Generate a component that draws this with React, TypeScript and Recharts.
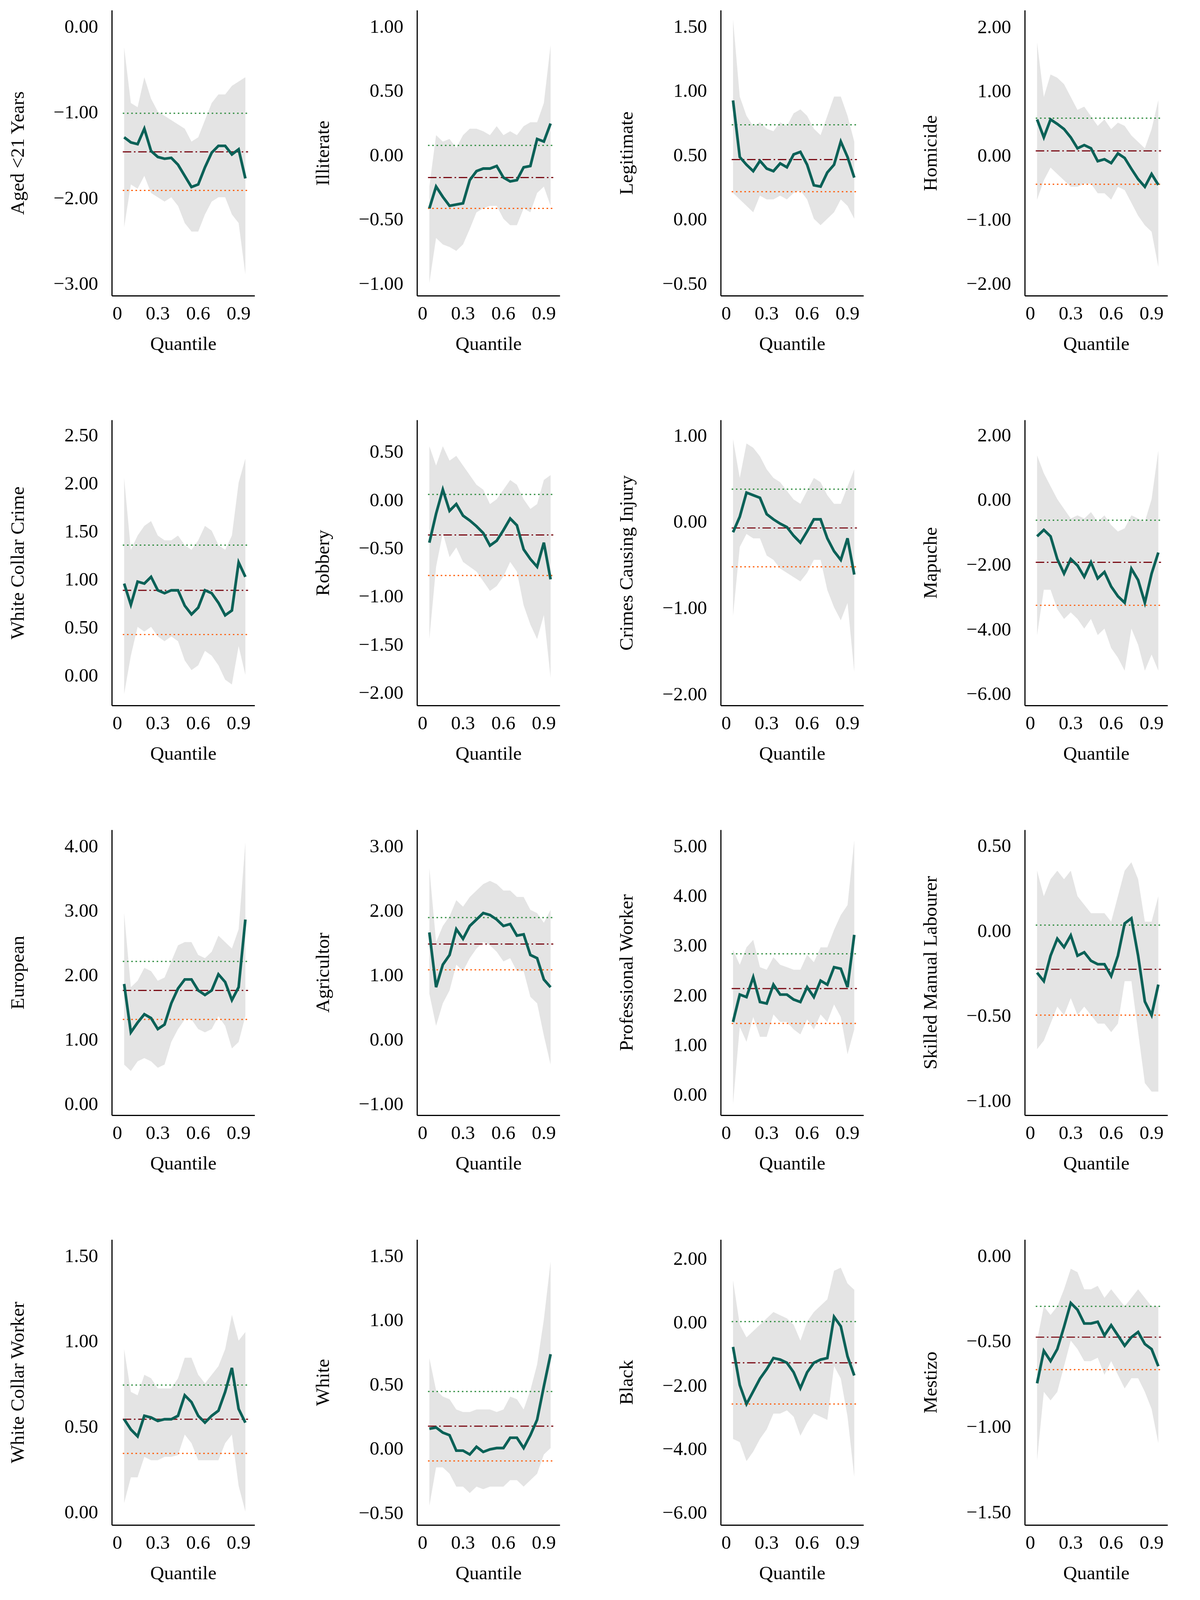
import React from "react";
import { ComposedChart, Line, Area, XAxis, YAxis, ReferenceLine } from "recharts";

const quantiles = [0.05, 0.1, 0.15, 0.2, 0.25, 0.3, 0.35, 0.4, 0.45, 0.5, 0.55, 0.6, 0.65, 0.7, 0.75, 0.8, 0.85, 0.9, 0.95];
const xTicks = [0, 0.3, 0.6, 0.9];

const titles = [
  "Aged <21 Years", "Illiterate", "Legitimate", "Homicide",
  "White Collar Crime", "Robbery", "Crimes Causing Injury", "Mapuche",
  "European", "Agricultor", "Professional Worker", "Skilled Manual Labourer",
  "White Collar Worker", "White", "Black", "Mestizo",
];

const yTicks = [
  [0, -1, -2, -3], [1, 0.5, 0, -0.5, -1], [1.5, 1, 0.5, 0, -0.5], [2, 1, 0, -1, -2],
  [2.5, 2, 1.5, 1, 0.5, 0], [0.5, 0, -0.5, -1, -1.5, -2], [1, 0, -1, -2], [2, 0, -2, -4, -6],
  [4, 3, 2, 1, 0], [3, 2, 1, 0, -1], [5, 4, 3, 2, 1, 0], [0.5, 0, -0.5, -1],
  [1.5, 1, 0.5, 0], [1.5, 1, 0.5, 0, -0.5], [2, 0, -2, -4, -6], [0, -0.5, -1, -1.5],
];

const yDomains = [
  [-3.15, 0.18], [-1.1, 1.12], [-0.6, 1.62], [-2.2, 2.25],
  [-0.32, 2.65], [-2.14, 0.82], [-2.14, 1.17], [-6.38, 2.44],
  [-0.19, 4.24], [-1.19, 3.24], [-0.43, 5.31], [-1.09, 0.59],
  [-0.08, 1.59], [-0.6, 1.62], [-6.42, 2.58], [-1.58, 0.09],
];

// OLS estimate, upper and lower confidence bound
const olsEst = [-1.47, -0.18, 0.46, 0.06, 0.88, -0.37, -0.08, -1.95, 1.75, 1.47, 2.12, -0.23, 0.54, 0.17, -1.3, -0.48];
const olsHi = [-1.02, 0.07, 0.73, 0.57, 1.35, 0.05, 0.37, -0.65, 2.2, 1.88, 2.82, 0.03, 0.74, 0.44, 0.0, -0.3];
const olsLo = [-1.92, -0.42, 0.21, -0.46, 0.42, -0.79, -0.53, -3.28, 1.3, 1.07, 1.42, -0.5, 0.34, -0.1, -2.6, -0.67];

const coef = [
  [-1.3, -1.36, -1.38, -1.2, -1.46, -1.53, -1.55, -1.54, -1.62, -1.75, -1.88, -1.85, -1.65, -1.48, -1.4, -1.4, -1.5, -1.44, -1.78],
  [-0.42, -0.25, -0.33, -0.4, -0.39, -0.38, -0.2, -0.13, -0.11, -0.11, -0.09, -0.18, -0.21, -0.2, -0.1, -0.09, 0.12, 0.1, 0.24],
  [0.92, 0.48, 0.42, 0.37, 0.45, 0.39, 0.37, 0.43, 0.4, 0.5, 0.52, 0.42, 0.26, 0.25, 0.36, 0.42, 0.6, 0.48, 0.32],
  [0.55, 0.27, 0.55, 0.48, 0.4, 0.27, 0.1, 0.15, 0.1, -0.1, -0.07, -0.13, 0.02, -0.05, -0.22, -0.38, -0.5, -0.3, -0.47],
  [0.95, 0.73, 0.97, 0.95, 1.02, 0.88, 0.85, 0.88, 0.88, 0.72, 0.63, 0.7, 0.88, 0.85, 0.75, 0.62, 0.67, 1.17, 1.02],
  [-0.45, -0.15, 0.1, -0.12, -0.05, -0.17, -0.22, -0.28, -0.35, -0.48, -0.43, -0.32, -0.2, -0.27, -0.52, -0.62, -0.7, -0.45, -0.83],
  [-0.13, 0.05, 0.33, 0.3, 0.27, 0.08, 0.02, -0.03, -0.07, -0.17, -0.25, -0.12, 0.02, 0.02, -0.2, -0.35, -0.45, -0.2, -0.62],
  [-1.15, -0.95, -1.15, -1.85, -2.3, -1.85, -2.05, -2.4, -1.95, -2.45, -2.25, -2.7, -3.0, -3.2, -2.15, -2.5, -3.2, -2.3, -1.65],
  [1.85, 1.1, 1.25, 1.38, 1.32, 1.15, 1.22, 1.55, 1.78, 1.92, 1.92, 1.75, 1.68, 1.75, 2.0, 1.88, 1.6, 1.8, 2.85],
  [1.65, 0.8, 1.15, 1.3, 1.7, 1.55, 1.75, 1.85, 1.95, 1.92, 1.85, 1.75, 1.78, 1.6, 1.62, 1.3, 1.25, 0.92, 0.8],
  [1.45, 2.0, 1.95, 2.35, 1.85, 1.82, 2.2, 2.0, 2.0, 1.9, 1.85, 2.15, 1.95, 2.28, 2.2, 2.55, 2.52, 2.15, 3.2],
  [-0.25, -0.3, -0.15, -0.05, -0.1, -0.03, -0.15, -0.13, -0.18, -0.2, -0.2, -0.27, -0.15, 0.04, 0.07, -0.15, -0.42, -0.5, -0.32],
  [0.54, 0.48, 0.44, 0.56, 0.55, 0.53, 0.54, 0.54, 0.56, 0.68, 0.64, 0.56, 0.52, 0.56, 0.59, 0.7, 0.84, 0.6, 0.52],
  [0.15, 0.16, 0.12, 0.1, -0.02, -0.02, -0.05, 0.01, -0.03, -0.01, 0.0, 0.0, 0.08, 0.08, 0.0, 0.1, 0.22, 0.48, 0.73],
  [-0.8, -2.0, -2.6, -2.2, -1.8, -1.5, -1.15, -1.2, -1.3, -1.6, -2.1, -1.6, -1.3, -1.2, -1.15, 0.15, -0.15, -1.1, -1.7],
  [-0.75, -0.56, -0.62, -0.55, -0.42, -0.28, -0.32, -0.4, -0.4, -0.39, -0.47, -0.41, -0.47, -0.53, -0.48, -0.45, -0.52, -0.55, -0.65],
];

const bandHi = [
  [-0.25, -0.9, -0.95, -0.6, -0.85, -1.0, -1.05, -1.1, -1.15, -1.2, -1.35, -1.3, -1.1, -0.9, -0.8, -0.8, -0.7, -0.65, -0.6],
  [-0.25, 0.15, 0.1, 0.12, 0.05, 0.15, 0.2, 0.2, 0.18, 0.15, 0.22, 0.15, 0.18, 0.15, 0.22, 0.25, 0.25, 0.4, 0.85],
  [1.55, 0.95, 0.8, 0.72, 0.75, 0.7, 0.68, 0.75, 0.72, 0.82, 0.85, 0.8, 0.7, 0.65, 0.8, 0.95, 0.95, 0.8, 0.6],
  [1.75, 0.9, 1.25, 1.2, 1.1, 0.9, 0.7, 0.75, 0.6, 0.45, 0.55, 0.4, 0.5, 0.45, 0.3, 0.2, 0.1, 0.4, 0.85],
  [2.05, 1.3, 1.45, 1.55, 1.6, 1.45, 1.4, 1.4, 1.45, 1.35, 1.3, 1.4, 1.55, 1.5, 1.35, 1.3, 1.45, 2.0, 2.25],
  [0.55, 0.35, 0.55, 0.4, 0.45, 0.35, 0.25, 0.15, 0.1, -0.05, 0.0, 0.1, 0.2, 0.15, 0.0, -0.1, -0.05, 0.2, 0.25],
  [0.95, 0.5, 0.9, 0.85, 0.75, 0.6, 0.5, 0.45, 0.35, 0.25, 0.2, 0.35, 0.5, 0.45, 0.3, 0.2, 0.2, 0.4, 0.6],
  [1.35, 0.8, 0.4, 0.0, -0.3, -0.6, -0.5, -0.6, -0.4, -0.7, -0.5, -0.8, -1.0, -0.9, -0.5, -0.6, -0.7, 0.0, 1.5],
  [2.95, 1.8, 1.9, 2.1, 2.05, 1.9, 1.95, 2.2, 2.45, 2.5, 2.5, 2.3, 2.25, 2.35, 2.6, 2.5, 2.4, 2.7, 4.05],
  [2.65, 1.5, 1.75, 1.9, 2.15, 2.05, 2.2, 2.3, 2.4, 2.45, 2.4, 2.3, 2.3, 2.2, 2.2, 2.0, 1.95, 1.8, 2.0],
  [2.9, 2.6, 2.95, 3.1, 2.55, 2.5, 2.75, 2.6, 2.55, 2.5, 2.5, 2.8, 2.65, 2.95, 2.95, 3.3, 3.6, 3.8, 5.1],
  [0.35, 0.2, 0.3, 0.35, 0.3, 0.35, 0.2, 0.15, 0.1, 0.1, 0.1, 0.05, 0.2, 0.35, 0.4, 0.3, 0.05, 0.05, 0.2],
  [0.95, 0.7, 0.68, 0.8, 0.78, 0.72, 0.72, 0.72, 0.78, 0.9, 0.9, 0.8, 0.75, 0.8, 0.85, 0.95, 1.15, 1.0, 1.05],
  [0.7, 0.45, 0.4, 0.38, 0.3, 0.28, 0.28, 0.3, 0.3, 0.3, 0.28, 0.3, 0.4, 0.38, 0.3, 0.45, 0.65, 1.0, 1.45],
  [1.3, -0.1, -0.5, -0.3, -0.1, 0.1, 0.3, 0.2, 0.1, -0.1, -0.6, 0.0, 0.3, 0.5, 0.7, 1.6, 1.7, 1.2, 1.0],
  [-0.5, -0.3, -0.35, -0.3, -0.2, -0.08, -0.1, -0.2, -0.2, -0.18, -0.25, -0.2, -0.25, -0.3, -0.25, -0.2, -0.25, -0.3, -0.3],
];

const bandLo = [
  [-2.35, -1.85, -1.9, -1.75, -1.95, -2.0, -2.05, -2.0, -2.1, -2.3, -2.4, -2.4, -2.2, -2.05, -2.0, -2.0, -2.2, -2.3, -2.9],
  [-1.0, -0.65, -0.7, -0.72, -0.75, -0.7, -0.58, -0.45, -0.42, -0.4, -0.4, -0.5, -0.55, -0.55, -0.42, -0.45, -0.3, -0.25, -0.4],
  [0.2, 0.15, 0.1, 0.05, 0.18, 0.15, 0.15, 0.18, 0.15, 0.2, 0.22, 0.15, 0.0, -0.05, 0.0, 0.05, 0.15, 0.1, 0.0],
  [-0.7, -0.4, -0.2, -0.3, -0.4, -0.5, -0.5, -0.45, -0.45, -0.6, -0.6, -0.7, -0.5, -0.55, -0.75, -0.95, -1.1, -1.2, -1.75],
  [-0.2, 0.2, 0.5, 0.45, 0.5, 0.4, 0.35, 0.4, 0.35, 0.15, 0.05, 0.1, 0.25, 0.2, 0.1, -0.05, -0.1, 0.3, 0.0],
  [-1.45, -0.7, -0.35, -0.6, -0.5, -0.65, -0.7, -0.75, -0.85, -0.95, -0.9, -0.8, -0.65, -0.75, -1.1, -1.3, -1.45, -1.2, -1.85],
  [-1.1, -0.3, -0.15, -0.2, -0.2, -0.4, -0.45, -0.55, -0.6, -0.65, -0.7, -0.6, -0.45, -0.45, -0.8, -1.0, -1.15, -0.95, -1.75],
  [-4.2, -2.8, -2.8, -3.4, -3.7, -3.5, -3.7, -4.0, -3.7, -4.2, -4.0, -4.6, -4.9, -5.3, -4.0, -4.5, -5.3, -4.8, -5.3],
  [0.6, 0.5, 0.65, 0.7, 0.65, 0.55, 0.6, 0.95, 1.15, 1.3, 1.3, 1.15, 1.1, 1.15, 1.35, 1.2, 0.85, 0.95, 1.35],
  [0.7, 0.2, 0.55, 0.75, 1.15, 1.05, 1.25, 1.4, 1.5, 1.45, 1.35, 1.2, 1.25, 1.05, 1.05, 0.65, 0.55, 0.05, -0.4],
  [-0.2, 1.35, 1.05, 1.55, 1.15, 1.15, 1.6, 1.45, 1.45, 1.3, 1.2, 1.5, 1.3, 1.6, 1.45, 1.8, 1.55, 0.8, 1.3],
  [-0.7, -0.65, -0.55, -0.45, -0.5, -0.4, -0.5, -0.45, -0.5, -0.55, -0.55, -0.6, -0.55, -0.3, -0.3, -0.6, -0.9, -0.95, -0.95],
  [0.05, 0.2, 0.2, 0.32, 0.3, 0.3, 0.32, 0.32, 0.33, 0.45, 0.4, 0.3, 0.3, 0.3, 0.3, 0.4, 0.45, 0.15, 0.0],
  [-0.45, -0.15, -0.15, -0.2, -0.3, -0.3, -0.35, -0.3, -0.32, -0.3, -0.3, -0.3, -0.25, -0.25, -0.3, -0.25, -0.2, -0.05, 0.0],
  [-3.7, -3.8, -4.4, -4.1, -3.7, -3.4, -2.9, -2.9, -2.8, -3.0, -3.6, -3.2, -2.9, -3.0, -3.1, -1.4, -1.8, -3.0, -4.9],
  [-1.2, -0.8, -0.85, -0.8, -0.65, -0.5, -0.55, -0.62, -0.62, -0.6, -0.7, -0.62, -0.7, -0.78, -0.72, -0.72, -0.8, -0.9, -1.1],
];

const FONT = "'Liberation Serif', 'DejaVu Serif', serif";
const colLeft = [291, 1084, 1873, 2663]; // x of y-axis line
const rowTop = [27, 1092, 2157, 3222]; // top of plot area
const AXIS_W = 300;
const PLOT_W = 371;
const PLOT_H = 742;
const X_H = 190;

const fmtY = (v: number) => (v < 0 ? "\u2212" + Math.abs(v).toFixed(2) : v.toFixed(2));
const fmtX = (v: number) => (v === 0 ? "0" : String(v));

const Panel = ({ i }: { i: number }) => {
  const data = quantiles.map((q, k) => ({ q, coef: coef[i][k], band: [bandLo[i][k], bandHi[i][k]] }));
  const left = colLeft[i % 4] - AXIS_W;
  const top = rowTop[Math.floor(i / 4)] - 20;
  const seg = (y: number) => [{ x: 0.04, y }, { x: 0.97, y }] as any;
  return (
    <div style={{ position: "absolute", left, top }}>
      <ComposedChart width={AXIS_W + PLOT_W + 30} height={20 + PLOT_H + X_H} data={data}
        margin={{ top: 20, right: 30, left: 0, bottom: 0 }}>
        <XAxis dataKey="q" type="number" domain={[-0.04, 1.02]} ticks={xTicks} tickFormatter={fmtX}
          allowDataOverflow tickLine={false} axisLine={{ stroke: "#000", strokeWidth: 3 }} height={X_H}
          tick={{ fontSize: 50, fill: "#000", fontFamily: FONT }} tickMargin={20}
          label={{ value: "Quantile", position: "insideTop", offset: 105, fontSize: 50, fill: "#000", fontFamily: FONT }} />
        <YAxis type="number" domain={yDomains[i]} ticks={yTicks[i]} tickFormatter={fmtY} allowDataOverflow
          tickLine={false} axisLine={{ stroke: "#000", strokeWidth: 3 }} width={AXIS_W} interval={0}
          tick={{ fontSize: 50, fill: "#000", fontFamily: FONT }} tickMargin={30} />
        <Area dataKey="band" type="linear" stroke="none" fill="#d6d6d6" fillOpacity={0.65} isAnimationActive={false} />
        <ReferenceLine segment={seg(olsHi[i])} stroke="#2a8a3a" strokeWidth={3} strokeDasharray="4 7" />
        <ReferenceLine segment={seg(olsEst[i])} stroke="#7a0a14" strokeWidth={3} strokeDasharray="22 7 4 7" />
        <ReferenceLine segment={seg(olsLo[i])} stroke="#ff5a00" strokeWidth={3} strokeDasharray="4 7" />
        <Line dataKey="coef" type="linear" stroke="#0b6157" strokeWidth={7} dot={false} isAnimationActive={false} />
      </ComposedChart>
      <div style={{
        position: "absolute", left: 54, top: 20 + PLOT_H / 2, fontFamily: FONT, fontSize: 50, color: "#000",
        whiteSpace: "nowrap", transform: "translate(-50%, -50%) rotate(-90deg)", lineHeight: 1,
      }}>{titles[i]}</div>
    </div>
  );
};

export default function App() {
  return (
    <div style={{ position: "absolute", left: 0, top: 0, width: 3071, height: 4157, background: "#fff", overflow: "hidden" }}>
      <div style={{ position: "absolute", left: 0, top: 0, width: 3071, height: 4157, transform: "scale(0.985)", transformOrigin: "0 0" }}>
        {titles.map((_, i) => <Panel key={i} i={i} />)}
      </div>
    </div>
  );
}
